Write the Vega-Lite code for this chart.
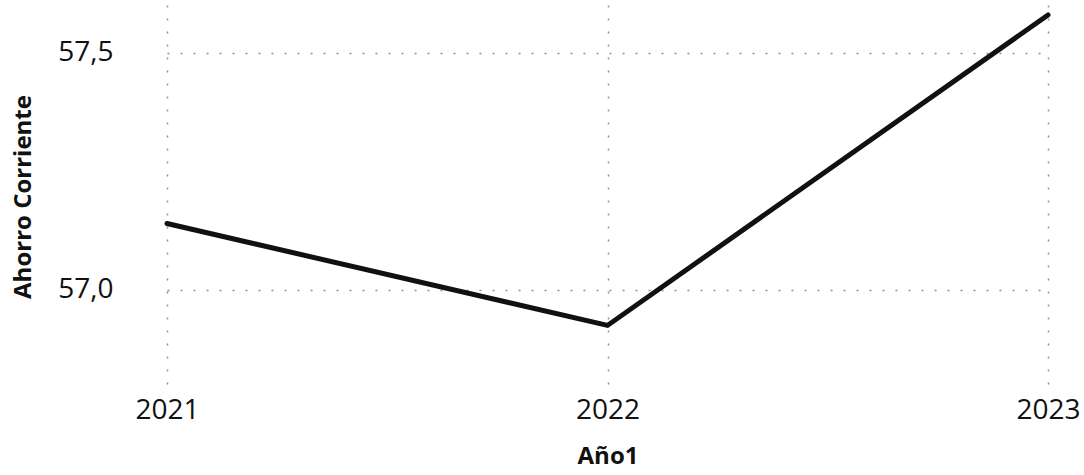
{
  "$schema": "https://vega.github.io/schema/vega-lite/v6.json",
  "width": 928,
  "height": 383,
  "autosize": {"type": "none"},
  "padding": {"left": 140, "top": 5, "right": 16, "bottom": 87},
  "background": "white",
  "config": {"view": {"stroke": null}, "font": "Open Sans"},
  "data": {"values": [
    {"Año1": "2021", "Ahorro Corriente": 57.14},
    {"Año1": "2022", "Ahorro Corriente": 56.925},
    {"Año1": "2023", "Ahorro Corriente": 57.58}
  ]},
  "mark": {"type": "line", "color": "#111111", "strokeWidth": 5, "strokeCap": "round", "strokeJoin": "miter"},
  "encoding": {
    "x": {
      "field": "Año1", "type": "ordinal",
      "scale": {"type": "point", "padding": 0, "range": [27, 908]},
      "axis": {
        "labelAngle": 0,
        "domain": false, "ticks": false,
        "labelOverlap": false, "labelFlush": false, "labelBound": false,
        "grid": true, "gridDash": [2, 11], "gridColor": "#a08a90", "gridWidth": 1.5,
        "labelFontSize": 28, "labelFontWeight": 500, "labelColor": "#111111", "labelPadding": 8,
        "title": "Año1", "titleFontSize": 24, "titleFontWeight": "bold", "titleColor": "#111111", "titlePadding": 20
      }
    },
    "y": {
      "field": "Ahorro Corriente", "type": "quantitative",
      "scale": {"domain": [56.793, 57.601], "nice": false, "zero": false},
      "axis": {
        "values": [57.0, 57.5],
        "labelExpr": "replace(format(datum.value, '.1f'), '.', ',')",
        "labelOverlap": false, "labelFlush": false, "labelBound": false,
        "domain": false, "ticks": false,
        "grid": true, "gridDash": [2, 11], "gridColor": "#a08a90", "gridWidth": 1.5,
        "labelFontSize": 28, "labelFontWeight": 500, "labelColor": "#111111", "labelPadding": 27,
        "title": "Ahorro Corriente", "titleFontSize": 24, "titleFontWeight": "bold", "titleColor": "#111111", "titlePadding": 22
      }
    }
  }
}
